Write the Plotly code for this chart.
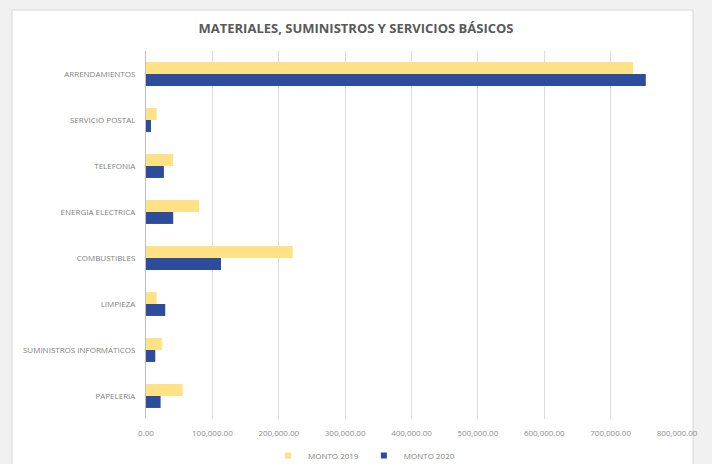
import plotly.graph_objects as go

# Spending categories, top to bottom
categorias = [
    "ARRENDAMIENTOS",
    "SERVICIO POSTAL",
    "TELEFONIA",
    "ENERGIA ELECTRICA",
    "COMBUSTIBLES",
    "LIMPIEZA",
    "SUMINISTROS INFORMÁTICOS",
    "PAPELERIA",
]

monto_2019 = [734000, 16000, 41000, 80000, 221000, 16000, 24000, 55000]
monto_2020 = [753000, 7500, 27000, 41000, 113000, 29000, 14000, 22000]

x_ticks = [0, 100000, 200000, 300000, 400000, 500000, 600000, 700000, 800000]

COLOR_2019 = "#FFE186"
COLOR_2020 = "#2E4C9C"

fig = go.Figure()

# Bars (the reversed category axis puts the first series on top of each group)
for nombre, valores, color in [("MONTO 2019", monto_2019, COLOR_2019),
                               ("MONTO 2020", monto_2020, COLOR_2020)]:
    fig.add_trace(go.Bar(
        y=categorias, x=valores, orientation="h", name=nombre,
        marker=dict(color=color, line=dict(width=0)), showlegend=False,
    ))

# Legend entries with small square swatches
for nombre, color in [("MONTO 2019", COLOR_2019), ("MONTO 2020", COLOR_2020)]:
    fig.add_trace(go.Scatter(
        x=[None], y=[None], mode="markers", name=nombre,
        marker=dict(symbol="square", size=6, color=color),
    ))

fig.update_layout(
    width=712, height=464,
    margin=dict(l=146, r=35, t=51, b=45),
    paper_bgcolor="#F1F1F1",
    plot_bgcolor="white",
    barmode="group",
    bargap=0.48,
    bargroupgap=0,
    font=dict(family="Open Sans, Lato, sans-serif", color="#7F7F7F", size=8),
    title=dict(
        text="<b>MATERIALES, SUMINISTROS Y SERVICIOS BÁSICOS</b>",
        x=0.5, xref="container", xanchor="center",
        y=1 - 28 / 464, yref="container", yanchor="middle",
        font=dict(family="Open Sans, Lato, sans-serif", size=13, color="#595959"),
    ),
    showlegend=True,
    legend=dict(
        orientation="h", xref="container", x=364 / 712, xanchor="center",
        yref="container", y=1 - 441 / 464, yanchor="top",
        font=dict(size=8, color="#7F7F7F"), bgcolor="rgba(0,0,0,0)",
        itemwidth=30, traceorder="normal", tracegroupgap=0,
    ),
    xaxis=dict(
        range=[0, 800000], tickvals=x_ticks, tickformat=",.2f",
        showgrid=True, gridcolor="#DCDCDC", gridwidth=1,
        zeroline=False, showline=False, ticks="", ticklabelstandoff=8,
        tickfont=dict(size=8, color="#8C8C8C"),
        fixedrange=True, automargin=False,
    ),
    yaxis=dict(
        categoryorder="array", categoryarray=categorias, autorange="reversed",
        showgrid=False, zeroline=False, showline=True, linecolor="#BFBFBF",
        ticks="", ticklabelstandoff=8,
        tickfont=dict(size=8, color="#7F7F7F"),
        fixedrange=True, automargin=False,
    ),
)

# White chart card framed inside the grey surround
fig.add_shape(
    type="rect", xref="paper", yref="paper", layer="below",
    x0=-134 / 531, x1=(693 - 146) / 531,
    y0=-60 / 368, y1=(368 + 41) / 368,
    fillcolor="white", line=dict(color="#D6D6D6", width=1),
)

fig.write_html("out.html")
